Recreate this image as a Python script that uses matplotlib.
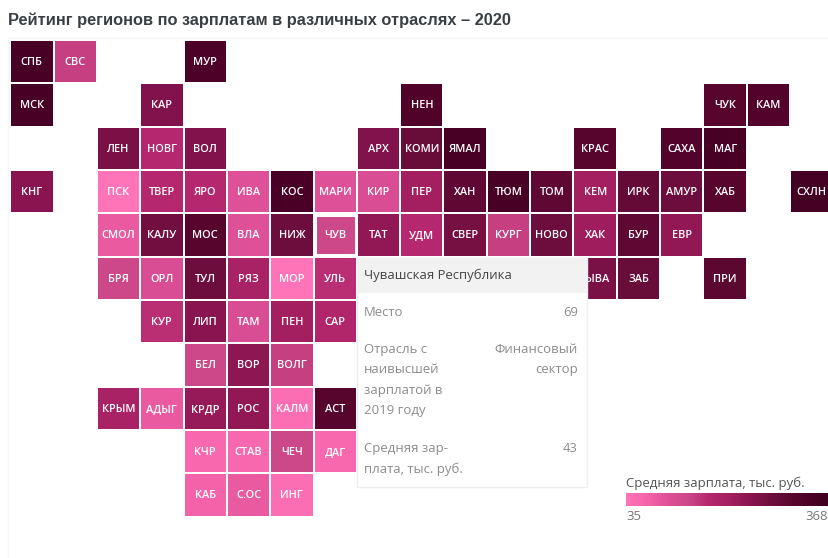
import numpy as np
from matplotlib import pyplot as plt
from matplotlib.colors import FuncNorm, LinearSegmentedColormap
from matplotlib.patches import Rectangle

plt.rcParams['font.family'] = ['Open Sans', 'DejaVu Sans']

# tile map of the regions, one list per row of the map ("" = no tile)
# row 5 has tiles hidden under the tooltip, they can not be read
row_0 = ["СПБ", "СВС", "", "", "МУР"]
row_1 = ["МСК", "", "", "КАР", "", "", "", "", "", "НЕН", "", "", "", "", "", "", "ЧУК", "КАМ"]
row_2 = ["", "", "ЛЕН", "НОВГ", "ВОЛ", "", "", "", "АРХ", "КОМИ", "ЯМАЛ", "", "", "КРАС", "", "САХА", "МАГ"]
row_3 = ["КНГ", "", "ПСК", "ТВЕР", "ЯРО", "ИВА", "КОС", "МАРИ", "КИР", "ПЕР", "ХАН", "ТЮМ", "ТОМ", "КЕМ", "ИРК", "АМУР", "ХАБ", "", "СХЛН"]
row_4 = ["", "", "СМОЛ", "КАЛУ", "МОС", "ВЛА", "НИЖ", "ЧУВ", "ТАТ", "УДМ", "СВЕР", "КУРГ", "НОВО", "ХАК", "БУР", "ЕВР"]
row_5 = ["", "", "БРЯ", "ОРЛ", "ТУЛ", "РЯЗ", "МОР", "УЛЬ", "", "", "", "", "", "ТЫВА", "ЗАБ", "", "ПРИ"]
row_6 = ["", "", "", "КУР", "ЛИП", "ТАМ", "ПЕН", "САР"]
row_7 = ["", "", "", "", "БЕЛ", "ВОР", "ВОЛГ"]
row_8 = ["", "", "КРЫМ", "АДЫГ", "КРДР", "РОС", "КАЛМ", "АСТ"]
row_9 = ["", "", "", "", "КЧР", "СТАВ", "ЧЕЧ", "ДАГ"]
row_10 = ["", "", "", "", "КАБ", "С.ОС", "ИНГ"]
tile_rows = [row_0, row_1, row_2, row_3, row_4, row_5, row_6, row_7, row_8, row_9, row_10]

# average wage, thousand rubles
wage_0 = [110, 44, 0, 0, 95]
wage_1 = [120, 0, 0, 60, 0, 0, 0, 0, 0, 90, 0, 0, 0, 0, 0, 0, 80, 85]
wage_2 = [0, 0, 62, 47, 60, 0, 0, 0, 60, 68, 130, 0, 0, 80, 0, 85, 110]
wage_3 = [58, 0, 35, 47, 47, 40, 100, 40, 41, 52, 72, 120, 72, 52, 70, 66, 78, 0, 200]
wage_4 = [0, 0, 39, 64, 78, 40, 66, 43, 56, 47, 63, 44, 66, 53, 72, 56]
wage_5 = [0, 0, 43, 41, 66, 50, 35, 46, 0, 0, 0, 0, 0, 62, 68, 0, 74]
wage_6 = [0, 0, 0, 46, 58, 41, 52, 48]
wage_7 = [0, 0, 0, 0, 43, 57, 44]
wage_8 = [0, 0, 50, 39, 55, 56, 36, 80]
wage_9 = [0, 0, 0, 0, 37, 37, 43, 37]
wage_10 = [0, 0, 0, 0, 38, 39, 36]
wage_rows = [wage_0, wage_1, wage_2, wage_3, wage_4, wage_5, wage_6, wage_7, wage_8, wage_9, wage_10]

# colour scale is not linear in the wage
scale_wages = [35, 38, 40, 43, 47, 52, 58, 65, 75, 100, 368]
scale_colors = ["#ff73b8", "#f463aa", "#de5098", "#cc4888", "#b5276e", "#a31f60",
                "#8a1450", "#6e0e3e", "#5a062f", "#4a0026", "#3a001c"]

tooltip_title = "Чувашская Республика"
tooltip_left = ["Место", "Отрасль с\nнаивысшей\nзарплатой в\n2019 году", "Средняя зар-\nплата, тыс. руб."]
tooltip_right = ["69", "Финансовый\nсектор", "43"]

n_cols = 19
n_rows = len(tile_rows)
grid = np.full((n_rows, n_cols), np.nan)
for r, wages in enumerate(wage_rows):
    grid[r, :len(wages)] = wages
grid[grid == 0] = np.nan

cmap = LinearSegmentedColormap.from_list("wage", scale_colors)
cmap.set_bad("white", 0)
positions = np.linspace(0, 1, len(scale_wages))
norm = FuncNorm((lambda v: np.interp(v, scale_wages, positions),
                 lambda p: np.interp(p, positions, scale_wages)), vmin=35, vmax=368)

W, H = 829, 558
fig = plt.figure(figsize=(W / 100, H / 100), dpi=100)

# map axes, pitch of the tiles is 43.33 px
pitch = 43.33
ax = fig.add_axes([10.2 / W, 1 - (40 + n_rows * pitch) / H, n_cols * pitch / W, n_rows * pitch / H])
ax.pcolormesh(np.arange(n_cols + 1), np.arange(n_rows + 1), grid, cmap=cmap, norm=norm,
              edgecolors="white", linewidth=1.1)
ax.set_xlim(0, n_cols)
ax.set_ylim(n_rows, 0)
ax.axis("off")

for r, row in enumerate(tile_rows):
    for c, code in enumerate(row):
        if code != "":
            ax.text(c + 0.5, r + 0.52, code, color="white", fontsize=7.9, fontweight="semibold",
                    ha="center", va="center")
            if code == "ЧУВ":
                ax.add_patch(Rectangle((c + 0.03, r + 0.03), 0.94, 0.94, fill=False, ec="white", lw=2.2))

# everything else goes on an overlay in pixel coordinates
top = fig.add_axes([0, 0, 1, 1], zorder=5)
top.set_xlim(0, W)
top.set_ylim(H, 0)
top.axis("off")
top.patch.set_alpha(0)

top.text(8, 20, "Рейтинг регионов по зарплатам в различных отраслях – 2020",
         family="Liberation Sans", fontweight="bold", fontsize=11.8, color="#3a3f44", va="center")
top.plot([8, W], [38, 38], color="#f4f4f4", lw=1)
top.plot([8, 8], [38, H], color="#f6f6f6", lw=1)

# tooltip
top.add_patch(Rectangle((357, 258), 230, 229, fc="white", ec="#eeeeee", lw=1))
top.add_patch(Rectangle((357, 258), 230, 35, fc="#f2f2f2", ec="none"))
top.text(364, 275, tooltip_title, fontsize=9.45, color="#444444", va="center")
for y, left, right in zip([312, 349, 448], tooltip_left, tooltip_right):
    top.text(364, y - 6, left, fontsize=9.45, color="#8c8c8c", va="top", linespacing=1.74)
    top.text(578, y - 6, right, fontsize=9.45, color="#8c8c8c", va="top", ha="right", linespacing=1.74)

# legend
top.text(626, 483, "Средняя зарплата, тыс. руб.", fontsize=9.45, color="#555555", va="center")
cax = fig.add_axes([626 / W, 1 - 506 / H, 208 / W, 13 / H], zorder=6)
cax.imshow(np.linspace(0, 1, 256)[None, :], cmap=cmap, aspect="auto")
cax.axis("off")
top.text(626, 516.5, "35", fontsize=9.45, color="#777777", va="center")
top.text(828, 516.5, "368", fontsize=9.45, color="#777777", va="center", ha="right")

fig.savefig("out.png", dpi=100)
